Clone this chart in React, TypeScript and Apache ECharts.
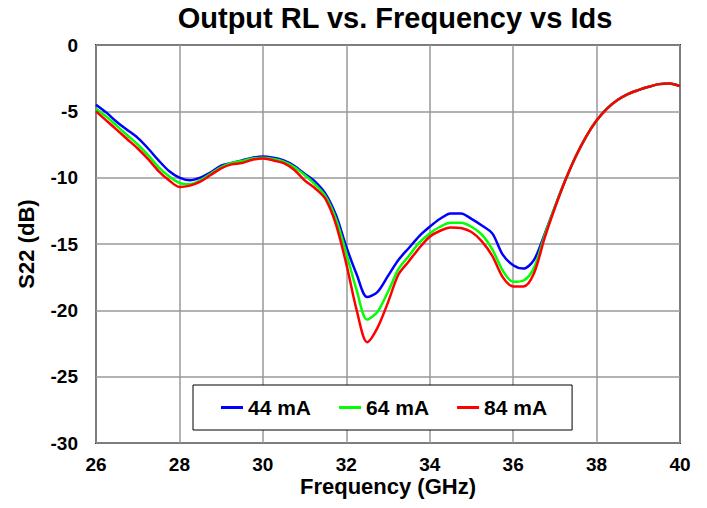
import React, { useEffect, useRef } from "react";
import * as echarts from "echarts";

const freq = [
  26.0, 26.25, 26.5, 26.75, 27.0, 27.25, 27.5, 27.75, 28.0, 28.25, 28.5, 28.75,
  29.0, 29.25, 29.5, 29.75, 30.0, 30.25, 30.5, 30.75, 31.0, 31.25, 31.5, 31.75,
  32.0, 32.25, 32.5, 32.75, 33.0, 33.25, 33.5, 33.75, 34.0, 34.25, 34.5, 34.75,
  35.0, 35.25, 35.5, 35.75, 36.0, 36.25, 36.5, 36.75, 37.0, 37.25, 37.5, 37.75,
  38.0, 38.25, 38.5, 38.75, 39.0, 39.25, 39.5, 39.75, 40.0,
];

const s44 = [
  -4.5, -5.1, -5.8, -6.4, -7.0, -7.8, -8.7, -9.5, -10.0, -10.2, -10.0, -9.6,
  -9.1, -8.9, -8.7, -8.5, -8.4, -8.5, -8.7, -9.1, -9.7, -10.3, -11.2, -12.8,
  -15.2, -17.3, -19.0, -18.6, -17.4, -16.2, -15.3, -14.4, -13.7, -13.1, -12.7, -12.7,
  -13.1, -13.6, -14.2, -15.8, -16.6, -16.85, -16.2, -14.3, -12.2, -10.2, -8.4, -6.9,
  -5.7, -4.8, -4.15, -3.7, -3.4, -3.15, -2.95, -2.9, -3.1,
];

const s64 = [
  -4.8, -5.4, -6.1, -6.8, -7.5, -8.3, -9.2, -9.9, -10.4, -10.5, -10.2, -9.7,
  -9.2, -8.9, -8.75, -8.55, -8.5, -8.6, -8.8, -9.2, -9.8, -10.5, -11.4, -13.1,
  -15.7, -18.5, -20.7, -20.1, -18.6, -16.9, -15.9, -14.9, -14.2, -13.7, -13.4, -13.4,
  -13.7, -14.3, -15.4, -17.0, -17.85, -17.75, -16.8, -14.4, -12.2, -10.2, -8.4, -6.9,
  -5.7, -4.8, -4.15, -3.7, -3.4, -3.15, -2.95, -2.9, -3.1,
];

const s84 = [
  -5.0, -5.7, -6.4, -7.1, -7.8, -8.6, -9.5, -10.2, -10.7, -10.6, -10.3, -9.8,
  -9.3, -9.0, -8.9, -8.65, -8.55, -8.7, -8.9, -9.4, -10.2, -10.8, -11.6, -13.5,
  -16.5, -20.0, -22.4, -21.3, -19.4, -17.3, -16.3, -15.3, -14.45, -14.0, -13.75, -13.8,
  -14.1, -14.8, -15.9, -17.5, -18.2, -18.2, -17.2, -14.6, -12.3, -10.2, -8.4, -6.9,
  -5.7, -4.8, -4.15, -3.7, -3.4, -3.15, -2.95, -2.9, -3.1,
];

const seriesNames = ["44 mA", "64 mA", "84 mA"];
const seriesColors = ["#0000ff", "#00ff00", "#ff0000"];
const seriesValues = [s44, s64, s84];

const FONT = 'Arial, "Liberation Sans", sans-serif';

export default function App() {
  const ref = useRef<HTMLDivElement>(null);
  useEffect(() => {
    if (!ref.current) return;
    const chart = echarts.init(ref.current, null, { renderer: "svg" });
    chart.setOption({
      animation: false,
      backgroundColor: "#ffffff",
      title: {
        text: "Output RL vs. Frequency vs Ids",
        left: 390,
        top: -2,
        textAlign: "center",
        textStyle: { fontFamily: FONT, fontSize: 29, fontWeight: "bold", color: "#000" },
      },
      grid: {
        left: 96,
        right: 27,
        top: 45,
        bottom: 65,
        show: true,
        borderColor: "#333",
        borderWidth: 2,
        backgroundColor: "#fff",
      },
      legend: {
        data: seriesNames,
        left: 193,
        top: 385,
        backgroundColor: "#fff",
        borderColor: "#000",
        borderWidth: 1,
        borderRadius: 0,
        padding: [12, 25, 12, 28],
        itemGap: 28,
        itemWidth: 22,
        itemHeight: 3,
        icon: "rect",
        textStyle: { fontFamily: FONT, fontSize: 21, fontWeight: "bold", color: "#000" },
      },
      xAxis: {
        type: "value",
        min: 26,
        max: 40,
        interval: 2,
        name: "Frequency (GHz)",
        nameLocation: "middle",
        nameGap: 32,
        nameMoveOverlap: false,
        nameTextStyle: { fontFamily: FONT, fontSize: 22, lineHeight: 22, fontWeight: "bold", color: "#000" },
        axisLine: { show: false },
        axisTick: { show: false },
        axisLabel: { margin: 12, lineHeight: 18, fontFamily: FONT, fontSize: 19, fontWeight: "bold", color: "#000" },
        splitLine: { show: true, lineStyle: { color: "#999", width: 1.5 } },
      },
      yAxis: {
        type: "value",
        min: -30,
        max: 0,
        interval: 5,
        name: "S22 (dB)",
        nameLocation: "middle",
        nameGap: 59,
        nameRotate: 90,
        nameMoveOverlap: false,
        nameTextStyle: { fontFamily: FONT, fontSize: 22, fontWeight: "bold", color: "#000" },
        axisLine: { show: false },
        axisTick: { show: false },
        axisLabel: { margin: 18, fontFamily: FONT, fontSize: 19, fontWeight: "bold", color: "#000" },
        splitLine: { show: true, lineStyle: { color: "#999", width: 1.5 } },
      },
      series: seriesNames.map((name, i) => ({
        name,
        type: "line",
        showSymbol: false,
        symbol: "none",
        smooth: 0.3,
        color: seriesColors[i],
        lineStyle: { width: 2.5, color: seriesColors[i] },
        data: freq.map((f, j) => [f, seriesValues[i][j]]),
      })),
    });
    return () => chart.dispose();
  }, []);
  return <div ref={ref} style={{ width: 707, height: 508, margin: -8 }} />;
}
